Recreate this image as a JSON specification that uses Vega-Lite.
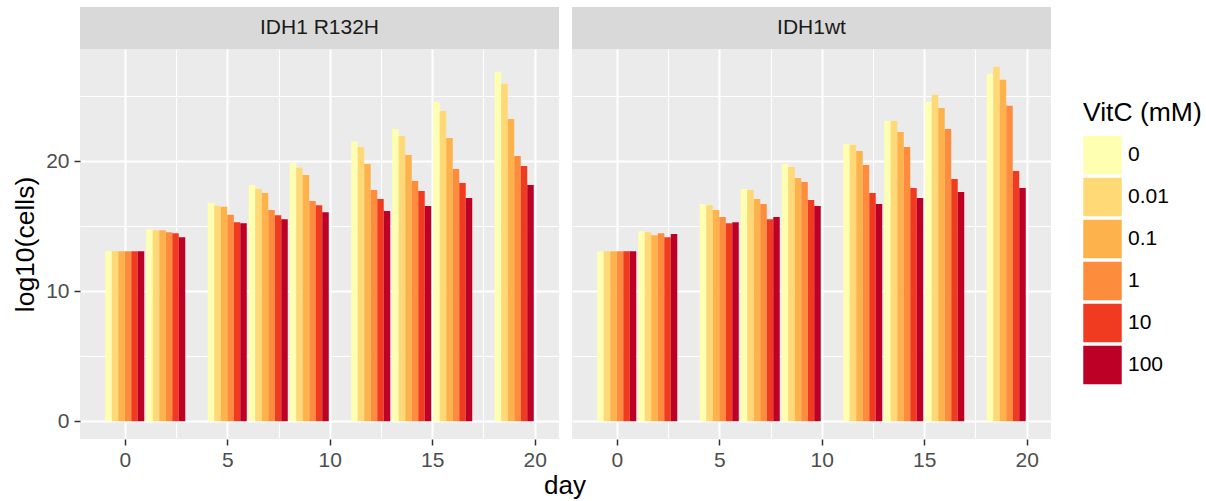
{
  "$schema": "https://vega.github.io/schema/vega-lite/v6.json",
  "padding": {"left": 12, "top": 7, "right": 5, "bottom": 5},
  "background": "white",
  "config": {
    "font": "Liberation Sans",
    "view": {"stroke": null},
    "concat": {"spacing": 13},
    "legend": {
      "symbolType": "square", "symbolSize": 1480, "symbolStrokeWidth": 0,
      "labelFontSize": 21, "labelColor": "#000000", "labelOffset": 6,
      "titleFontSize": 26.5, "titleFontWeight": "normal", "titleColor": "#000000",
      "rowPadding": 3, "titlePadding": 9, "padding": 0
    }
  },
  "title": {"text": "day", "orient": "bottom", "anchor": "middle", "frame": "group", "dx": 485, "fontSize": 26, "fontWeight": "normal", "color": "#000000", "offset": 3},
  "data": {"values": [
    {"g":"IDH1 R132H","day":0,"vitc":"0","v":13.08},{"g":"IDH1 R132H","day":0,"vitc":"0.01","v":13.08},{"g":"IDH1 R132H","day":0,"vitc":"0.1","v":13.08},{"g":"IDH1 R132H","day":0,"vitc":"1","v":13.08},{"g":"IDH1 R132H","day":0,"vitc":"10","v":13.08},{"g":"IDH1 R132H","day":0,"vitc":"100","v":13.08},
    {"g":"IDH1 R132H","day":2,"vitc":"0","v":14.78},{"g":"IDH1 R132H","day":2,"vitc":"0.01","v":14.70},{"g":"IDH1 R132H","day":2,"vitc":"0.1","v":14.70},{"g":"IDH1 R132H","day":2,"vitc":"1","v":14.55},{"g":"IDH1 R132H","day":2,"vitc":"10","v":14.47},{"g":"IDH1 R132H","day":2,"vitc":"100","v":14.16},
    {"g":"IDH1 R132H","day":5,"vitc":"0","v":16.79},{"g":"IDH1 R132H","day":5,"vitc":"0.01","v":16.58},{"g":"IDH1 R132H","day":5,"vitc":"0.1","v":16.50},{"g":"IDH1 R132H","day":5,"vitc":"1","v":15.89},{"g":"IDH1 R132H","day":5,"vitc":"10","v":15.32},{"g":"IDH1 R132H","day":5,"vitc":"100","v":15.24},
    {"g":"IDH1 R132H","day":7,"vitc":"0","v":18.17},{"g":"IDH1 R132H","day":7,"vitc":"0.01","v":17.87},{"g":"IDH1 R132H","day":7,"vitc":"0.1","v":17.56},{"g":"IDH1 R132H","day":7,"vitc":"1","v":16.25},{"g":"IDH1 R132H","day":7,"vitc":"10","v":15.86},{"g":"IDH1 R132H","day":7,"vitc":"100","v":15.55},
    {"g":"IDH1 R132H","day":9,"vitc":"0","v":19.87},{"g":"IDH1 R132H","day":9,"vitc":"0.01","v":19.51},{"g":"IDH1 R132H","day":9,"vitc":"0.1","v":18.95},{"g":"IDH1 R132H","day":9,"vitc":"1","v":16.94},{"g":"IDH1 R132H","day":9,"vitc":"10","v":16.63},{"g":"IDH1 R132H","day":9,"vitc":"100","v":16.09},
    {"g":"IDH1 R132H","day":12,"vitc":"0","v":21.52},{"g":"IDH1 R132H","day":12,"vitc":"0.01","v":21.11},{"g":"IDH1 R132H","day":12,"vitc":"0.1","v":19.79},{"g":"IDH1 R132H","day":12,"vitc":"1","v":17.79},{"g":"IDH1 R132H","day":12,"vitc":"10","v":17.10},{"g":"IDH1 R132H","day":12,"vitc":"100","v":16.17},
    {"g":"IDH1 R132H","day":14,"vitc":"0","v":22.49},{"g":"IDH1 R132H","day":14,"vitc":"0.01","v":21.95},{"g":"IDH1 R132H","day":14,"vitc":"0.1","v":20.49},{"g":"IDH1 R132H","day":14,"vitc":"1","v":18.48},{"g":"IDH1 R132H","day":14,"vitc":"10","v":17.71},{"g":"IDH1 R132H","day":14,"vitc":"100","v":16.56},
    {"g":"IDH1 R132H","day":16,"vitc":"0","v":24.58},{"g":"IDH1 R132H","day":16,"vitc":"0.01","v":23.88},{"g":"IDH1 R132H","day":16,"vitc":"0.1","v":21.80},{"g":"IDH1 R132H","day":16,"vitc":"1","v":19.41},{"g":"IDH1 R132H","day":16,"vitc":"10","v":18.33},{"g":"IDH1 R132H","day":16,"vitc":"100","v":17.17},
    {"g":"IDH1 R132H","day":19,"vitc":"0","v":26.89},{"g":"IDH1 R132H","day":19,"vitc":"0.01","v":25.96},{"g":"IDH1 R132H","day":19,"vitc":"0.1","v":23.26},{"g":"IDH1 R132H","day":19,"vitc":"1","v":20.41},{"g":"IDH1 R132H","day":19,"vitc":"10","v":19.64},{"g":"IDH1 R132H","day":19,"vitc":"100","v":18.17},
    {"g":"IDH1wt","day":0,"vitc":"0","v":13.08},{"g":"IDH1wt","day":0,"vitc":"0.01","v":13.08},{"g":"IDH1wt","day":0,"vitc":"0.1","v":13.08},{"g":"IDH1wt","day":0,"vitc":"1","v":13.08},{"g":"IDH1wt","day":0,"vitc":"10","v":13.08},{"g":"IDH1wt","day":0,"vitc":"100","v":13.08},
    {"g":"IDH1wt","day":2,"vitc":"0","v":14.63},{"g":"IDH1wt","day":2,"vitc":"0.01","v":14.55},{"g":"IDH1wt","day":2,"vitc":"0.1","v":14.32},{"g":"IDH1wt","day":2,"vitc":"1","v":14.47},{"g":"IDH1wt","day":2,"vitc":"10","v":14.16},{"g":"IDH1wt","day":2,"vitc":"100","v":14.40},
    {"g":"IDH1wt","day":5,"vitc":"0","v":16.71},{"g":"IDH1wt","day":5,"vitc":"0.01","v":16.63},{"g":"IDH1wt","day":5,"vitc":"0.1","v":16.25},{"g":"IDH1wt","day":5,"vitc":"1","v":15.71},{"g":"IDH1wt","day":5,"vitc":"10","v":15.24},{"g":"IDH1wt","day":5,"vitc":"100","v":15.32},
    {"g":"IDH1wt","day":7,"vitc":"0","v":17.87},{"g":"IDH1wt","day":7,"vitc":"0.01","v":17.79},{"g":"IDH1wt","day":7,"vitc":"0.1","v":17.10},{"g":"IDH1wt","day":7,"vitc":"1","v":16.71},{"g":"IDH1wt","day":7,"vitc":"10","v":15.55},{"g":"IDH1wt","day":7,"vitc":"100","v":15.71},
    {"g":"IDH1wt","day":9,"vitc":"0","v":19.79},{"g":"IDH1wt","day":9,"vitc":"0.01","v":19.56},{"g":"IDH1wt","day":9,"vitc":"0.1","v":18.71},{"g":"IDH1wt","day":9,"vitc":"1","v":18.41},{"g":"IDH1wt","day":9,"vitc":"10","v":17.02},{"g":"IDH1wt","day":9,"vitc":"100","v":16.56},
    {"g":"IDH1wt","day":12,"vitc":"0","v":21.34},{"g":"IDH1wt","day":12,"vitc":"0.01","v":21.26},{"g":"IDH1wt","day":12,"vitc":"0.1","v":20.80},{"g":"IDH1wt","day":12,"vitc":"1","v":19.72},{"g":"IDH1wt","day":12,"vitc":"10","v":17.56},{"g":"IDH1wt","day":12,"vitc":"100","v":16.71},
    {"g":"IDH1wt","day":14,"vitc":"0","v":23.11},{"g":"IDH1wt","day":14,"vitc":"0.01","v":23.11},{"g":"IDH1wt","day":14,"vitc":"0.1","v":22.26},{"g":"IDH1wt","day":14,"vitc":"1","v":21.11},{"g":"IDH1wt","day":14,"vitc":"10","v":17.94},{"g":"IDH1wt","day":14,"vitc":"100","v":17.17},
    {"g":"IDH1wt","day":16,"vitc":"0","v":24.58},{"g":"IDH1wt","day":16,"vitc":"0.01","v":25.12},{"g":"IDH1wt","day":16,"vitc":"0.1","v":24.11},{"g":"IDH1wt","day":16,"vitc":"1","v":22.49},{"g":"IDH1wt","day":16,"vitc":"10","v":18.64},{"g":"IDH1wt","day":16,"vitc":"100","v":17.64},
    {"g":"IDH1wt","day":19,"vitc":"0","v":26.74},{"g":"IDH1wt","day":19,"vitc":"0.01","v":27.28},{"g":"IDH1wt","day":19,"vitc":"0.1","v":26.27},{"g":"IDH1wt","day":19,"vitc":"1","v":24.27},{"g":"IDH1wt","day":19,"vitc":"10","v":19.25},{"g":"IDH1wt","day":19,"vitc":"100","v":17.94}
  ]},
  "hconcat": [
    {
      "spacing": 0,
      "vconcat": [
        {
          "width": 479, "height": 42,
          "data": {"values": [{"label": "IDH1 R132H"}]},
          "mark": {"type": "text", "fontSize": 21, "color": "#1A1A1A"},
          "encoding": {"text": {"field": "label", "type": "nominal"}},
          "view": {"fill": "#D9D9D9", "stroke": null}
        },
        {
          "width": 479, "height": 390,
          "transform": [{"filter": "datum.g == 'IDH1 R132H'"}],
          "view": {"fill": "#EBEBEB", "stroke": null},
          "encoding": {
            "x": {"field": "day", "type": "quantitative",
              "scale": {"domain": [-1.94, 20.94], "nice": false, "zero": false},
              "axis": {"values": [0, 2.5, 5, 7.5, 10, 12.5, 15, 17.5, 20], "title": null, "domain": false,
                "labelExpr": "datum.value % 5 == 0 ? datum.label : ''",
                "tickOpacity": {"condition": {"test": "datum.value % 5 == 0", "value": 1}, "value": 0},
                "tickColor": "#333333", "tickSize": 6, "tickWidth": 1.5,
                "labelFontSize": 21, "labelColor": "#4D4D4D", "labelPadding": 4,
                "grid": true, "gridColor": "#FFFFFF",
                "gridWidth": {"condition": {"test": "datum.value % 5 == 0", "value": 2}, "value": 1}}},
            "y": {"field": "v", "type": "quantitative", "stack": null,
              "scale": {"domain": [-1.36, 28.64], "nice": false, "zero": false},
              "axis": {"values": [0, 5, 10, 15, 20, 25], "title": "log10(cells)", "domain": false,
                "labelExpr": "datum.value % 10 == 0 ? datum.label : ''",
                "tickOpacity": {"condition": {"test": "datum.value % 10 == 0", "value": 1}, "value": 0},
                "tickColor": "#333333", "tickSize": 6, "tickWidth": 1.5,
                "labelFontSize": 21, "labelColor": "#4D4D4D", "labelPadding": 5,
                "titleFontSize": 26.5, "titleFontWeight": "normal", "titleColor": "#000000", "titlePadding": 6,
                "grid": true, "gridColor": "#FFFFFF",
                "gridWidth": {"condition": {"test": "datum.value % 10 == 0", "value": 2}, "value": 1}}},
            "color": {"field": "vitc", "type": "nominal", "sort": ["0", "0.01", "0.1", "1", "10", "100"],
              "scale": {"domain": ["0", "0.01", "0.1", "1", "10", "100"], "range": ["#FFFFB2", "#FED976", "#FEB24C", "#FD8D3C", "#F03B20", "#BD0026"]},
              "legend": {"title": "VitC (mM)", "orient": "none", "legendX": 1003, "legendY": 93}}
          },
          "layer": [
            {"transform": [{"filter": "datum.vitc == '0'"}], "mark": {"type": "bar", "width": 6.5, "xOffset": -16.25, "clip": true}},
            {"transform": [{"filter": "datum.vitc == '0.01'"}], "mark": {"type": "bar", "width": 6.5, "xOffset": -9.75, "clip": true}},
            {"transform": [{"filter": "datum.vitc == '0.1'"}], "mark": {"type": "bar", "width": 6.5, "xOffset": -3.25, "clip": true}},
            {"transform": [{"filter": "datum.vitc == '1'"}], "mark": {"type": "bar", "width": 6.5, "xOffset": 3.25, "clip": true}},
            {"transform": [{"filter": "datum.vitc == '10'"}], "mark": {"type": "bar", "width": 6.5, "xOffset": 9.75, "clip": true}},
            {"transform": [{"filter": "datum.vitc == '100'"}], "mark": {"type": "bar", "width": 6.5, "xOffset": 16.25, "clip": true}}
          ]
        }
      ]
    },
    {
      "spacing": 0,
      "vconcat": [
        {
          "width": 479, "height": 42,
          "data": {"values": [{"label": "IDH1wt"}]},
          "mark": {"type": "text", "fontSize": 21, "color": "#1A1A1A"},
          "encoding": {"text": {"field": "label", "type": "nominal"}},
          "view": {"fill": "#D9D9D9", "stroke": null}
        },
        {
          "width": 479, "height": 390,
          "transform": [{"filter": "datum.g == 'IDH1wt'"}],
          "view": {"fill": "#EBEBEB", "stroke": null},
          "encoding": {
            "x": {"field": "day", "type": "quantitative",
              "scale": {"domain": [-1.94, 20.94], "nice": false, "zero": false},
              "axis": {"values": [0, 2.5, 5, 7.5, 10, 12.5, 15, 17.5, 20], "title": null, "domain": false,
                "labelExpr": "datum.value % 5 == 0 ? datum.label : ''",
                "tickOpacity": {"condition": {"test": "datum.value % 5 == 0", "value": 1}, "value": 0},
                "tickColor": "#333333", "tickSize": 6, "tickWidth": 1.5,
                "labelFontSize": 21, "labelColor": "#4D4D4D", "labelPadding": 4,
                "grid": true, "gridColor": "#FFFFFF",
                "gridWidth": {"condition": {"test": "datum.value % 5 == 0", "value": 2}, "value": 1}}},
            "y": {"field": "v", "type": "quantitative", "stack": null,
              "scale": {"domain": [-1.36, 28.64], "nice": false, "zero": false},
              "axis": {"values": [0, 5, 10, 15, 20, 25], "title": null, "domain": false, "labels": false, "ticks": false,
                "grid": true, "gridColor": "#FFFFFF",
                "gridWidth": {"condition": {"test": "datum.value % 10 == 0", "value": 2}, "value": 1}}},
            "color": {"field": "vitc", "type": "nominal", "sort": ["0", "0.01", "0.1", "1", "10", "100"],
              "scale": {"domain": ["0", "0.01", "0.1", "1", "10", "100"], "range": ["#FFFFB2", "#FED976", "#FEB24C", "#FD8D3C", "#F03B20", "#BD0026"]},
              "legend": {"title": "VitC (mM)", "orient": "none", "legendX": 1003, "legendY": 93}}
          },
          "layer": [
            {"transform": [{"filter": "datum.vitc == '0'"}], "mark": {"type": "bar", "width": 6.5, "xOffset": -16.25, "clip": true}},
            {"transform": [{"filter": "datum.vitc == '0.01'"}], "mark": {"type": "bar", "width": 6.5, "xOffset": -9.75, "clip": true}},
            {"transform": [{"filter": "datum.vitc == '0.1'"}], "mark": {"type": "bar", "width": 6.5, "xOffset": -3.25, "clip": true}},
            {"transform": [{"filter": "datum.vitc == '1'"}], "mark": {"type": "bar", "width": 6.5, "xOffset": 3.25, "clip": true}},
            {"transform": [{"filter": "datum.vitc == '10'"}], "mark": {"type": "bar", "width": 6.5, "xOffset": 9.75, "clip": true}},
            {"transform": [{"filter": "datum.vitc == '100'"}], "mark": {"type": "bar", "width": 6.5, "xOffset": 16.25, "clip": true}}
          ]
        }
      ]
    }
  ]
}
